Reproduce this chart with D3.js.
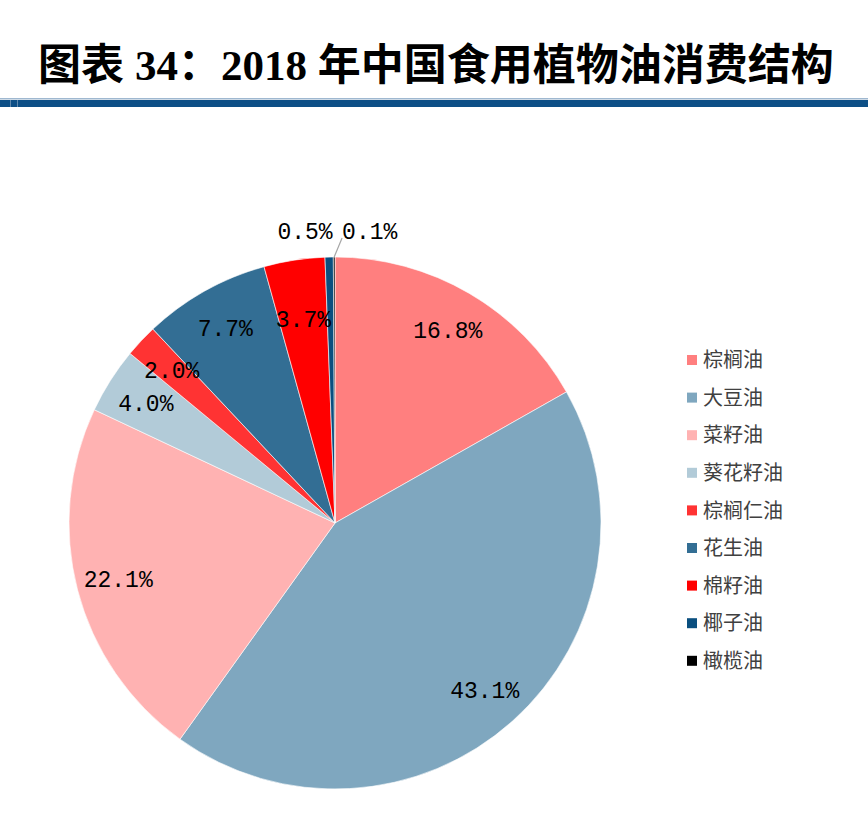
<!DOCTYPE html>
<html>
<head>
<meta charset="utf-8">
<script src="https://cdn.jsdelivr.net/npm/d3@7"></script>
<style>
  html, body { margin: 0; padding: 0; background: #fff; }
  svg { display: block; }
</style>
</head>
<body>
<svg id="chart" width="868" height="814"></svg>
<script>
// data
var categories = ['棕榈油', '大豆油', '菜籽油', '葵花籽油', '棕榈仁油', '花生油', '棉籽油', '椰子油', '橄榄油'];
var values = [16.8, 43.1, 22.1, 4.0, 2.0, 7.7, 3.7, 0.5, 0.1];
var colors = ['#ff7f7f', '#7fa7bf', '#ffb2b2', '#b2cbd8', '#ff3333', '#336e94', '#ff0000', '#0a4f7f', '#000000'];
var titleParts = ['图表', '34：2018 年中国食用植物油消费结构'];

var svg = d3.select('#chart');

// title + header rule
var title = svg.append('text')
    .attr('x', 38).attr('y', 80)
    .attr('font-family', '"Liberation Serif", "Noto Sans CJK SC", serif')
    .attr('font-weight', 'bold')
    .attr('font-size', 43)
    .attr('fill', '#000');
title.append('tspan').text(titleParts[0]);
title.append('tspan').attr('dx', 11).text(titleParts[1]);

svg.append('rect').attr('x', 0).attr('y', 98).attr('width', 868).attr('height', 1.5).attr('fill', '#9fb8d0');
svg.append('rect').attr('x', 0).attr('y', 100).attr('width', 868).attr('height', 7).attr('fill', '#0d4f86');
svg.append('rect').attr('x', 10).attr('y', 100).attr('width', 1).attr('height', 7).attr('fill', '#5f88ad');
svg.append('rect').attr('x', 17).attr('y', 100).attr('width', 1).attr('height', 7).attr('fill', '#5f88ad');

// pie
var cx = 335, cy = 523, R = 266;
var pie = d3.pie().sort(null).value(function(d){ return d; });
var arcs = pie(values);
var arc = d3.arc().innerRadius(0).outerRadius(R);
var labelArc = d3.arc().innerRadius(224).outerRadius(224);
var narrowArc = d3.arc().innerRadius(206).outerRadius(206);

var g = svg.append('g').attr('transform', 'translate(' + cx + ',' + cy + ')');

g.selectAll('path.slice')
    .data(arcs)
    .enter().append('path')
    .attr('class', 'slice')
    .attr('d', arc)
    .attr('fill', function(d, i){ return colors[i]; })
    .attr('stroke', '#fff')
    .attr('stroke-width', 0.6);

var fmt = function(v){ return v.toFixed(1) + '%'; };
var labelFont = '"Liberation Mono", "DejaVu Sans Mono", monospace';

// inside labels for the bigger slices (narrow slices near the top sit a bit deeper)
g.selectAll('text.lbl')
    .data(arcs.filter(function(d){ return d.data >= 1; }))
    .enter().append('text')
    .attr('class', 'lbl')
    .attr('transform', function(d){
        var a = (d.startAngle + d.endAngle) / 2;
        var c = a > 6 ? narrowArc.centroid(d) : labelArc.centroid(d);
        return 'translate(' + c + ')';
    })
    .attr('text-anchor', 'middle')
    .attr('dy', '0.35em')
    .attr('font-family', labelFont)
    .attr('font-size', 23)
    .attr('fill', '#000')
    .text(function(d){ return fmt(d.data); });

// the two tiny slices get labels outside
var small = arcs.filter(function(d){ return d.data < 1; });
var outerArc = d3.arc().innerRadius(292).outerRadius(292);
small.forEach(function(d, k){
    var p = outerArc.centroid(d);
    if (k === 0) {
        g.append('text')
            .attr('x', p[0] + 4).attr('y', p[1])
            .attr('dy', '0.35em')
            .attr('text-anchor', 'end')
            .attr('font-family', labelFont).attr('font-size', 23)
            .text(fmt(d.data));
    } else {
        var edge = d3.arc().innerRadius(R).outerRadius(R).centroid(d);
        g.append('line')
            .attr('x1', edge[0]).attr('y1', edge[1])
            .attr('x2', p[0] + 8).attr('y2', p[1] + 7)
            .attr('stroke', '#a6a6a6').attr('stroke-width', 1.2);
        g.append('text')
            .attr('x', p[0] + 8).attr('y', p[1])
            .attr('dy', '0.35em')
            .attr('text-anchor', 'start')
            .attr('font-family', labelFont).attr('font-size', 23)
            .text(fmt(d.data));
    }
});

// legend
var legend = svg.append('g').attr('transform', 'translate(687,360)');
var row = legend.selectAll('g')
    .data(categories)
    .enter().append('g')
    .attr('transform', function(d, i){ return 'translate(0,' + (i * 37.6) + ')'; });
row.append('rect')
    .attr('x', 0).attr('y', -5).attr('width', 10).attr('height', 10)
    .attr('fill', function(d, i){ return colors[i]; });
row.append('text')
    .attr('x', 16).attr('y', 0).attr('dy', '0.36em')
    .attr('font-family', '"Noto Sans CJK SC", sans-serif')
    .attr('font-size', 20)
    .attr('fill', '#404040')
    .text(function(d){ return d; });
</script>
</body>
</html>
